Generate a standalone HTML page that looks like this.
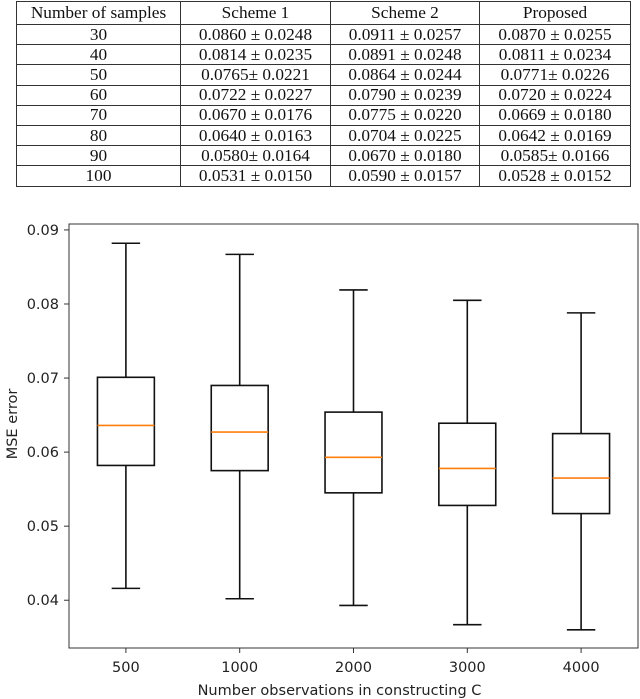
<!DOCTYPE html>
<html><head><meta charset="utf-8"><style>
html,body{margin:0;padding:0;background:#fff;width:640px;height:699px;overflow:hidden}
table{position:absolute;left:16px;top:1px;border-collapse:collapse;font-family:"Liberation Serif",serif;font-size:17.3px;color:#111}
td{border:1.3px solid #333;text-align:center;padding:0;height:19.2px;line-height:18px;white-space:nowrap}
tr.h td{height:22px}
svg{position:absolute;left:0;top:0}
</style></head><body>
<table>
<tr class="h"><td style="width:163px">Number of samples</td><td style="width:149px">Scheme 1</td><td style="width:148px">Scheme 2</td><td style="width:150px">Proposed</td></tr>
<tr><td>30</td><td>0.0860 ± 0.0248</td><td>0.0911 ± 0.0257</td><td>0.0870 ± 0.0255</td></tr>
<tr><td>40</td><td>0.0814 ± 0.0235</td><td>0.0891 ± 0.0248</td><td>0.0811 ± 0.0234</td></tr>
<tr><td>50</td><td>0.0765± 0.0221</td><td>0.0864 ± 0.0244</td><td>0.0771± 0.0226</td></tr>
<tr><td>60</td><td>0.0722 ± 0.0227</td><td>0.0790 ± 0.0239</td><td>0.0720 ± 0.0224</td></tr>
<tr><td>70</td><td>0.0670 ± 0.0176</td><td>0.0775 ± 0.0220</td><td>0.0669 ± 0.0180</td></tr>
<tr><td>80</td><td>0.0640 ± 0.0163</td><td>0.0704 ± 0.0225</td><td>0.0642 ± 0.0169</td></tr>
<tr><td>90</td><td>0.0580± 0.0164</td><td>0.0670 ± 0.0180</td><td>0.0585± 0.0166</td></tr>
<tr><td>100</td><td>0.0531 ± 0.0150</td><td>0.0590 ± 0.0157</td><td>0.0528 ± 0.0152</td></tr>
</table>
<svg id="chart" width="640" height="699" font-family="'DejaVu Sans',sans-serif"></svg>
<script>
const categories=["500","1000","2000","3000","4000"];
const whiskerHigh=[0.0882,0.0867,0.0819,0.0805,0.0788];
const q3=[0.0701,0.0690,0.0654,0.0639,0.0625];
const medians=[0.0636,0.0627,0.0593,0.0578,0.0565];
const q1=[0.0582,0.0575,0.0545,0.0528,0.0517];
const whiskerLow=[0.0416,0.0402,0.0393,0.0367,0.0360];
const yTicks=[0.04,0.05,0.06,0.07,0.08,0.09];

const L=69,R=638,T=224,B=648;
const yMin=0.03355,yMax=0.0908;
const y=v=>B-(v-yMin)/(yMax-yMin)*(B-T);
const step=(R-L)/categories.length;
const x=i=>L+step*(i+0.5);
const svg=document.getElementById('chart');
const NS='http://www.w3.org/2000/svg';
function mk(tag,a){const e=document.createElementNS(NS,tag);for(const k in a)e.setAttribute(k,a[k]);svg.appendChild(e);return e;}

const frame=mk('rect',{x:L,y:T,width:R-L,height:B-T,fill:'none',stroke:'#333','stroke-width':1});



yTicks.forEach(v=>{
  const t=mk('line',{x1:L-5,x2:L,y1:y(v),y2:y(v),stroke:'#333','stroke-width':1});
  
  
  const l=mk('text',{x:L-10,y:y(v)+5,'text-anchor':'end','font-size':14.5,fill:'#222'});
  l.textContent=v.toFixed(2);
  
  
});

const hw=step*0.25,cw=step*0.125;
categories.forEach((c,i)=>{
  const cx=x(i);
  const g=mk('g',{});
  
  
  const add=(tag,a)=>{const e=document.createElementNS(NS,tag);for(const k in a)e.setAttribute(k,a[k]);g.appendChild(e);return e;};
  add('line',{x1:cx,x2:cx,y1:y(whiskerHigh[i]),y2:y(q3[i]),stroke:'#111','stroke-width':1.6});
  add('line',{x1:cx,x2:cx,y1:y(q1[i]),y2:y(whiskerLow[i]),stroke:'#111','stroke-width':1.6});
  add('line',{x1:cx-cw,x2:cx+cw,y1:y(whiskerHigh[i]),y2:y(whiskerHigh[i]),stroke:'#111','stroke-width':1.6});
  add('line',{x1:cx-cw,x2:cx+cw,y1:y(whiskerLow[i]),y2:y(whiskerLow[i]),stroke:'#111','stroke-width':1.6});
  add('rect',{x:cx-hw,y:y(q3[i]),width:2*hw,height:y(q1[i])-y(q3[i]),fill:'none',stroke:'#111','stroke-width':1.6});
  add('line',{x1:cx-hw,x2:cx+hw,y1:y(medians[i]),y2:y(medians[i]),stroke:'#ff7f0e','stroke-width':1.6});
  const t=mk('line',{x1:cx,x2:cx,y1:B,y2:B+5,stroke:'#333','stroke-width':1});
  
  
  const l=mk('text',{x:cx,y:B+24,'text-anchor':'middle','font-size':14.5,fill:'#222'});
  l.textContent=c;
  
  
});

const xt=mk('text',{x:(L+R)/2-14,y:695,'text-anchor':'middle','font-size':14.5,fill:'#222'});
xt.textContent='Number observations in constructing C';


const yt=mk('text',{x:0,y:0,'text-anchor':'middle','font-size':14.5,fill:'#222',transform:'translate(17,'+((T+B)/2-12)+') rotate(-90)'});
yt.textContent='MSE error';


</script>
</body></html>
